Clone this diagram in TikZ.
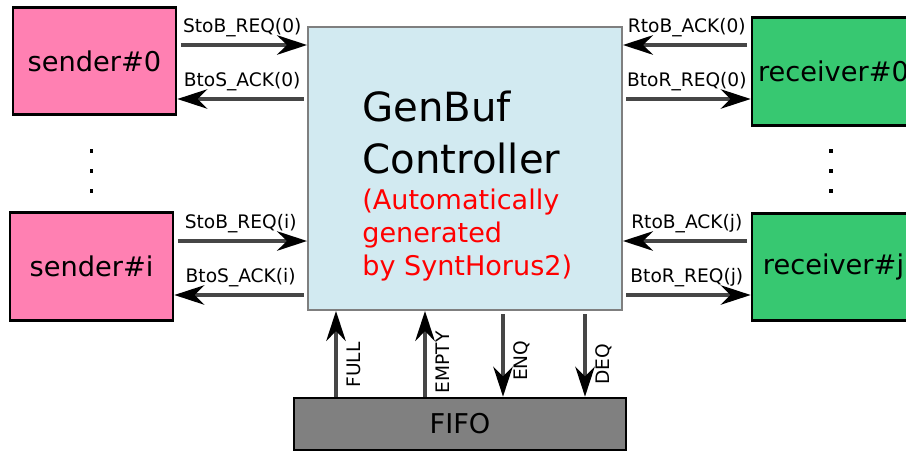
\documentclass[tikz,border=0pt]{standalone}
\usepackage{fontspec}
\setmainfont{DejaVu Sans}
\usepackage{xcolor}
\usepackage{tikz}
\usetikzlibrary{arrows.meta,positioning,calc}
\definecolor{senderpink}{HTML}{FF80B2}
\definecolor{receivergreen}{HTML}{37C871}
\definecolor{ctrlblue}{HTML}{D2EAF1}
\definecolor{ctrlborder}{HTML}{7F7F7F}
\definecolor{fifogray}{HTML}{808080}
\definecolor{sigdark}{HTML}{464646}
\newcommand{\boxfont}{\fontsize{15.5}{18}\selectfont}
\newcommand{\titlefont}{\fontsize{22.9}{29}\selectfont}
\newcommand{\notefont}{\fontsize{15.4}{18.7}\selectfont}
\newcommand{\sigfont}{\fontsize{10.6}{12}\selectfont}
\tikzset{
  sender/.style={rectangle, draw=black, line width=1.5pt, fill=senderpink, minimum width=3.26cm, minimum height=2.15cm, font=\boxfont},
  receiver/.style={sender, fill=receivergreen},
  ctrlbox/.style={rectangle, draw=ctrlborder, line width=1.1pt, fill=ctrlblue, minimum width=6.28cm, minimum height=5.66cm},
  fifobox/.style={rectangle, draw=black, line width=1.5pt, fill=fifogray, minimum width=6.64cm, minimum height=1.04cm, font=\boxfont},
  sig/.style={draw=sigdark, line width=2.3pt, -{Stealth[length=17pt, width=11pt, inset=5.5pt, color=black]}},
  siglabel/.style={font=\sigfont, inner sep=3.2pt},
  vlabel/.style={font=\sigfont, rotate=90, anchor=north, inner sep=5pt},
  dot/.style={fill=black},
}
\begin{document}
\begin{tikzpicture}[x=0.02cm, y=-0.02cm]
  \clip (0,0) rectangle (906,450);
  % blocks
  \node[sender] (s0) at (94.5,61) {sender\#0};
  \node[sender] (si) at (91.5,266.5) {sender\#i};
  \node[receiver] (r0) at (833.5,71.5) {receiver\#0};
  \node[receiver] (rj) at (833.5,267) {receiver\#j};
  \node[ctrlbox] (ctrl) at (465,168.5) {};
  \node[fifobox] (fifo) at (460,424) {FIFO};
  % controller text
  \node[anchor=base west, inner sep=0, font=\titlefont] (title1) at (362,121) {GenBuf};
  \node[anchor=base west, inner sep=0, font=\titlefont] (title2) at (362,173) {Controller};
  \node[anchor=base west, inner sep=0, font=\notefont, text=red] (note1) at (362,209) {(Automatically};
  \node[anchor=base west, inner sep=0, font=\notefont, text=red] (note2) at (362,242) {generated};
  \node[anchor=base west, inner sep=0, font=\notefont, text=red] (note3) at (362,275) {by SyntHorus2)};
  % sender side
  \draw[sig, shorten <=2pt] (s0.east |- 0,45) -- node[siglabel, above] {StoB\_REQ(0)} (ctrl.west |- 0,45);
  \draw[sig, shorten <=2pt] (ctrl.west |- 0,99) -- node[siglabel, above] {BtoS\_ACK(0)} (s0.east |- 0,99);
  \draw[sig, shorten <=2pt] (si.east |- 0,241) -- node[siglabel, above] {StoB\_REQ(i)} (ctrl.west |- 0,241);
  \draw[sig, shorten <=2pt] (ctrl.west |- 0,295) -- node[siglabel, above] {BtoS\_ACK(i)} (si.east |- 0,295);
  % receiver side
  \draw[sig, shorten <=2pt] (r0.west |- 0,45) -- node[siglabel, above] {RtoB\_ACK(0)} (ctrl.east |- 0,45);
  \draw[sig, shorten <=2pt] (ctrl.east |- 0,99) -- node[siglabel, above] {BtoR\_REQ(0)} (r0.west |- 0,99);
  \draw[sig, shorten <=2pt] (rj.west |- 0,241) -- node[siglabel, above] {RtoB\_ACK(j)} (ctrl.east |- 0,241);
  \draw[sig, shorten <=2pt] (ctrl.east |- 0,295) -- node[siglabel, above] {BtoR\_REQ(j)} (rj.west |- 0,295);
  % fifo signals
  \draw[sig] (fifo.north -| 336,0) -- node[vlabel, pos=0.37] {FULL} (ctrl.south -| 336,0);
  \draw[sig] (fifo.north -| 425,0) -- node[vlabel, pos=0.40] {EMPTY} (ctrl.south -| 425,0);
  \draw[sig, shorten <=2pt] (ctrl.south -| 503,0) -- node[vlabel, pos=0.58] {ENQ} (fifo.north -| 503,0);
  \draw[sig, shorten <=2pt] (ctrl.south -| 585,0) -- node[vlabel, pos=0.62] {DEQ} (fifo.north -| 585,0);
  % dots
  \foreach \y in {151,171,191} {
    \fill[dot] (89.8,\y-1.8) rectangle ++(3.6,3.6);
    \fill[dot] (829.2,\y-1.8) rectangle ++(3.6,3.6);
  }
\end{tikzpicture}
\end{document}
